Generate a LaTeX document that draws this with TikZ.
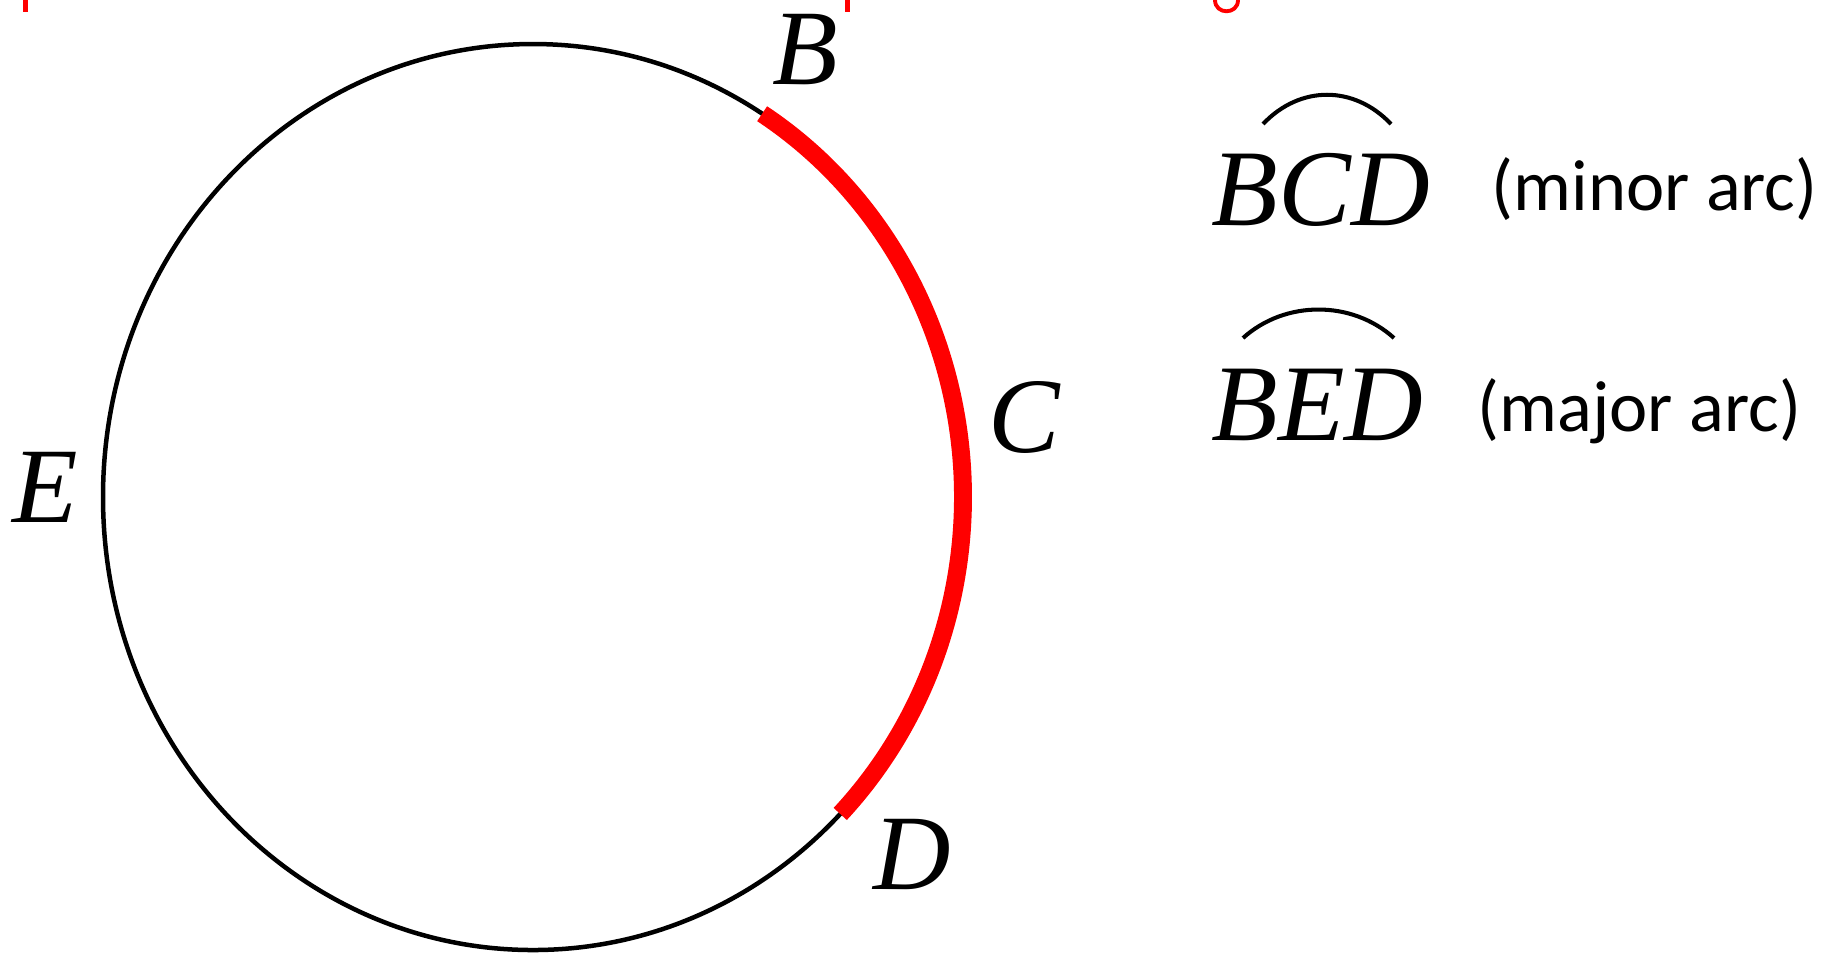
\documentclass[tikz,border=0pt]{standalone}
\usepackage{fontspec}
\setmainfont{Liberation Serif}
\newfontfamily\notefont{Carlito}
\begin{document}
\begin{tikzpicture}[x=0.01cm, y=-0.01cm,
    ptlabel/.style={inner sep=0pt, anchor=base, font=\fontsize{30.5}{36}\selectfont\itshape},
    arcname/.style={inner sep=0pt, anchor=base west, font=\fontsize{31}{36}\selectfont\itshape},
    arcnote/.style={inner sep=0pt, anchor=base west, font=\notefont\fontsize{20.6}{24}\selectfont},
    hat/.style={line width=1.15pt}]
  \useasboundingbox (0,0) rectangle (1828,953);

  % --- bottoms of the cut-off red title ---
  \fill[red] (23,0) rectangle (28,12);
  \fill[red] (845,0) rectangle (850,12);
  \draw[red, line width=1.1pt] (1215,0) .. controls (1215,15) and (1238,15) .. (1238,0);

  % --- circle and its points ---
  \coordinate (O) at (533,497);
  \draw[line width=1.28pt] (O) ellipse [x radius=430, y radius=453];
  \path (O) ++(-57.8:430 and 453) coordinate (B);
  \path (O) ++(44.4:430 and 453) coordinate (D);

  % --- minor arc BCD in red ---
  \draw[red, line width=5.1pt] (B) arc[start angle=-57.8, end angle=44.4, x radius=430, y radius=453];

  % --- point labels ---
  \node[ptlabel] (labB) at (805,84) {B};
  \node[ptlabel] (labC) at (1024,452) {C};
  \node[ptlabel] (labD) at (912,889) {D};
  \node[ptlabel] (labE) at (45,522) {E};

  % --- arc names on the right ---
  \node[arcname] (bcd) at (1211,225) {BCD};
  \draw[hat] (1263,124) .. controls (1300,85) and (1354,85) .. (1391,124);
  \node[arcnote] (minor) at (1491,210) {(minor arc)};

  \node[arcname] (bed) at (1211,440) {BED};
  \draw[hat] (1243,338) .. controls (1285,300) and (1352,300) .. (1394,338);
  \node[arcnote] (major) at (1477,431) {(major arc)};
\end{tikzpicture}
\end{document}
